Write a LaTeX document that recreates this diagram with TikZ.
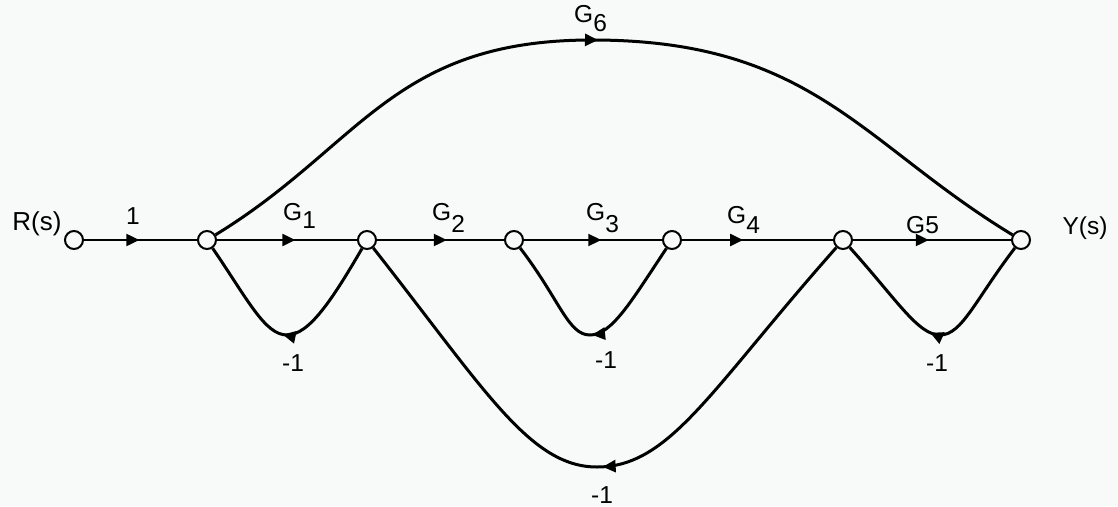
\documentclass[tikz,border=0pt]{standalone}
\usepackage{fontspec}
\setmainfont{Liberation Sans}
\usetikzlibrary{arrows.meta,decorations.markings}
\definecolor{bg}{HTML}{F8FAF9}
\tikzset{
  sig/.style={circle,draw,line width=2pt,minimum size=18pt,inner sep=0pt,fill=bg},
  midarrow/.style={postaction={decorate},
    decoration={markings,mark=at position #1 with {\arrow{Triangle[length=13pt,width=12pt]}}}},
  fwd/.style={line width=2pt,midarrow=#1},
  fb/.style={line width=3pt,midarrow=#1},
  lbl/.style={font=\fontsize{24.5pt}{28pt}\selectfont,inner sep=0pt},
  glbl/.style={lbl,anchor=base west}
}
\begin{document}
\begin{tikzpicture}[x=1pt,y=-1pt]
\fill[bg] (0,0) rectangle (1118,506);
\useasboundingbox (0,0) rectangle (1118,506);
% signal nodes
\node[sig] (R)  at (74,240)  {};
\node[sig] (n1) at (207,240) {};
\node[sig] (n2) at (367,240) {};
\node[sig] (n3) at (514,240) {};
\node[sig] (n4) at (672,240) {};
\node[sig] (n5) at (843,240) {};
\node[sig] (Y)  at (1021,240) {};
% forward branches
\draw[fwd=0.49] (R) -- (n1);
\draw[fwd=0.56] (n1) -- (n2);
\draw[fwd=0.55] (n2) -- (n3);
\draw[fwd=0.56] (n3) -- (n4);
\draw[fwd=0.405] (n4) -- (n5);
\draw[fwd=0.48] (n5) -- (Y);
% G6 arc
\draw[fb=0.485] (n1) .. controls (361,146) and (392,40) .. (592,40)
  .. controls (812,40) and (861,143) .. (Y);
% feedback loops
\draw[fb=0.52] (n2) .. controls (332,300) and (309,335) .. (287,335)
  .. controls (265,335) and (248,300) .. (n1);
\draw[fb=0.5] (n4) .. controls (632,300) and (612,335) .. (590,335)
  .. controls (568,335) and (560,300) .. (n3);
\draw[fb=0.52] (Y) .. controls (975,300) and (962,335) .. (940,335)
  .. controls (918,335) and (897,300) .. (n5);
\draw[fb=0.5] (n5) .. controls (710,390) and (670,467) .. (597,467)
  .. controls (530,467) and (485,390) .. (n2);
% labels
\node[lbl,font=\fontsize{26pt}{29pt}\selectfont] (lR) at (37,224) {R(s)};
\node[lbl] (lY) at (1085,228) {Y(s)};
\node[lbl] (l1) at (133,216) {1};
\node[glbl] (lG1) at (283,220) {G\raisebox{-8pt}{1}};
\node[glbl] (lG2) at (432,220) {G\raisebox{-12pt}{2}};
\node[glbl] (lG3) at (586,220) {G\raisebox{-12pt}{3}};
\node[glbl] (lG4) at (727,223) {G\raisebox{-10pt}{4}};
\node[glbl] (lG5) at (906,233) {G5};
\node[glbl] (lG6) at (574,23) {G\raisebox{-9pt}{6}};
\node[lbl] (m1) at (293,363) {-1};
\node[lbl] (m2) at (606,360) {-1};
\node[lbl] (m3) at (937,363) {-1};
\node[lbl,anchor=base] (m4) at (602,503) {-1};
\end{tikzpicture}
\end{document}
